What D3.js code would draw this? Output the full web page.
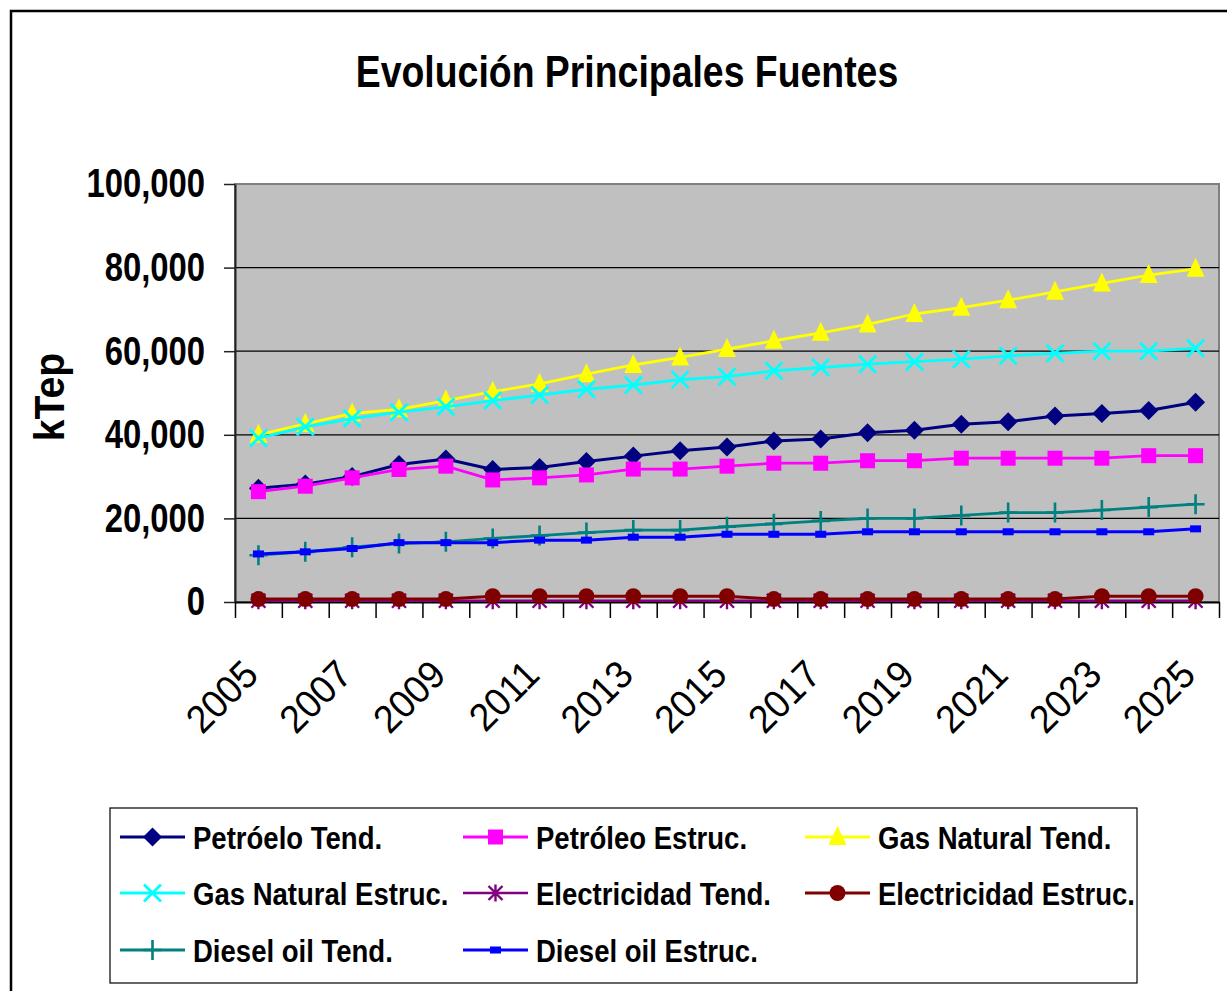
<!DOCTYPE html>
<html>
<head>
<meta charset="utf-8">
<script src="https://cdn.jsdelivr.net/npm/d3@7/dist/d3.min.js"></script>
<style>
  body { margin: 0; background: #fff; }
  text { font-family: "Liberation Sans", Arial, sans-serif; }
</style>
</head>
<body>
<svg id="chart" width="1227" height="991"></svg>
<script>
// ---- data (kTep) ----
const years = [2005, 2006, 2007, 2008, 2009, 2010, 2011, 2012, 2013, 2014, 2015,
               2016, 2017, 2018, 2019, 2020, 2021, 2022, 2023, 2024, 2025];
const labelYears = [2005, 2007, 2009, 2011, 2013, 2015, 2017, 2019, 2021, 2023, 2025];
const yTicks = [0, 20000, 40000, 60000, 80000, 100000];

const petroleoTend   = [27200, 28200, 30000, 32900, 34200, 31700, 32200, 33600, 34900, 36200, 37100,
                        38500, 39000, 40500, 41100, 42500, 43100, 44500, 45100, 45800, 47800];
const petroleoEstruc = [26400, 27700, 29700, 31700, 32500, 29200, 29700, 30400, 31800, 31800, 32500,
                        33200, 33200, 33800, 33800, 34400, 34400, 34400, 34400, 35000, 35000];
const gasTend        = [40000, 42600, 45100, 46100, 48200, 50300, 52200, 54500, 56700, 58500, 60500,
                        62500, 64400, 66400, 68900, 70400, 72200, 74200, 76200, 78200, 79700];
const gasEstruc      = [39200, 41900, 43900, 45400, 46700, 48200, 49500, 50900, 51900, 53200, 53900,
                        55300, 56100, 56900, 57500, 58100, 58900, 59500, 60000, 60000, 60700];
const elecTend       = [300, 300, 300, 300, 300, 300, 300, 300, 300, 300, 300,
                        300, 300, 300, 300, 300, 300, 300, 300, 300, 300];
const elecEstruc     = [700, 700, 700, 700, 700, 1400, 1400, 1400, 1400, 1400, 1400,
                        700, 700, 700, 700, 700, 700, 700, 1400, 1400, 1400];
const dieselTend     = [11200, 12000, 13100, 14000, 14400, 15200, 15900, 16600, 17200, 17200, 18000,
                        18700, 19400, 20000, 20000, 20700, 21400, 21400, 22000, 22700, 23400];
const dieselEstruc   = [11500, 12000, 12800, 14200, 14200, 14200, 14800, 14800, 15500, 15500, 16200,
                        16200, 16200, 16800, 16800, 16800, 16800, 16800, 16800, 16800, 17500];

const seriesNames  = ["Petróelo Tend.", "Petróleo Estruc.", "Gas Natural Tend.", "Gas Natural Estruc.",
                      "Electricidad Tend.", "Electricidad Estruc.", "Diesel oil Tend.", "Diesel oil Estruc."];
const seriesValues = [petroleoTend, petroleoEstruc, gasTend, gasEstruc, elecTend, elecEstruc, dieselTend, dieselEstruc];
const seriesColors = ["#000080", "#FF00FF", "#FFFF00", "#00FFFF", "#800080", "#800000", "#008080", "#0000FF"];
const seriesMarks  = ["diamond", "square", "triangle", "cross", "asterisk", "circle", "plus", "dash"];
const seriesWidths = [3, 2.8, 2.8, 2.8, 2.5, 3, 2.8, 3];

const series = seriesNames.map((name, i) => ({
  name, values: seriesValues[i], color: seriesColors[i], mark: seriesMarks[i], width: seriesWidths[i]
}));

// ---- layout ----
const svg = d3.select("#chart");
const plot = { left: 235, right: 1219, top: 184, bottom: 602 };

const x = d3.scaleBand().domain(years).range([plot.left, plot.right]).padding(0);
const xc = d => x(d) + x.bandwidth() / 2;
const y = d3.scaleLinear().domain([0, 100000]).range([plot.bottom, plot.top]);

// squeeze text horizontally to a narrow look
function condense(sel, f) {
  sel.each(function () {
    const L = this.getComputedTextLength();
    d3.select(this).attr("textLength", L * f).attr("lengthAdjust", "spacingAndGlyphs");
  });
}

// outer chart frame
svg.append("rect")
  .attr("x", 11).attr("y", 11).attr("width", 1250).attr("height", 1010)
  .attr("fill", "#fff").attr("stroke", "#000").attr("stroke-width", 2.5);

// title
svg.append("text")
  .attr("x", 627).attr("y", 87)
  .attr("text-anchor", "middle")
  .attr("font-size", 44).attr("font-weight", "bold")
  .text("Evolución Principales Fuentes")
  .call(condense, 0.85);

// plot background
svg.append("rect")
  .attr("x", plot.left).attr("y", plot.top)
  .attr("width", plot.right - plot.left).attr("height", plot.bottom - plot.top)
  .attr("fill", "#C0C0C0").attr("stroke", "#808080").attr("stroke-width", 2);

// horizontal gridlines
svg.append("g")
  .selectAll("line")
  .data(yTicks.filter(v => v > 0 && v < 100000))
  .join("line")
  .attr("x1", plot.left).attr("x2", plot.right)
  .attr("y1", d => y(d)).attr("y2", d => y(d))
  .attr("stroke", "#000").attr("stroke-width", 1.2);

// y axis
const yAxis = svg.append("g")
  .attr("transform", `translate(${plot.left},0)`)
  .call(d3.axisLeft(y).tickValues(yTicks).tickSize(11).tickSizeOuter(0).tickPadding(19)
        .tickFormat(d3.format(",")));
yAxis.select(".domain").attr("stroke", "#222").attr("stroke-width", 2);
yAxis.selectAll(".tick line").attr("stroke", "#222").attr("stroke-width", 1.5);
yAxis.selectAll("text")
  .attr("font-size", 40).attr("font-weight", "bold").attr("fill", "#000")
  .style("font-family", '"Liberation Sans", Arial, sans-serif')
  .call(condense, 0.82);

// y axis title
svg.append("text")
  .attr("transform", "translate(64,397) rotate(-90)")
  .attr("text-anchor", "middle")
  .attr("font-size", 42).attr("font-weight", "bold")
  .text("kTep")
  .call(condense, 0.93);

// x axis: line + boundary ticks
const xEdge = d3.scaleLinear().domain([0, years.length]).range([plot.left, plot.right]);
const xAxis = svg.append("g")
  .attr("transform", `translate(0,${plot.bottom})`)
  .call(d3.axisBottom(xEdge).tickValues(d3.range(years.length + 1)).tickSize(16).tickSizeOuter(0)
        .tickFormat(""));
xAxis.select(".domain").attr("stroke", "#000").attr("stroke-width", 2);
xAxis.selectAll(".tick line").attr("stroke", "#000").attr("stroke-width", 1.5);

// x labels (every other year, rotated)
svg.append("g")
  .selectAll("text")
  .data(labelYears)
  .join("text")
  .attr("transform", d => `translate(${xc(d) + 2},677) rotate(-45)`)
  .attr("text-anchor", "end")
  .attr("font-size", 39)
  .text(d => d)
  .call(condense, 0.95);

// ---- markers ----
function drawMark(g, type, color) {
  switch (type) {
    case "diamond":
      g.append("path").attr("d", "M0,-9.5L9.5,0L0,9.5L-9.5,0Z").attr("fill", color); break;
    case "square":
      g.append("rect").attr("x", -7.5).attr("y", -7.5).attr("width", 15).attr("height", 15).attr("fill", color); break;
    case "triangle":
      g.append("path").attr("d", "M0,-11L9,8L-9,8Z").attr("fill", color); break;
    case "cross":
      g.append("path").attr("d", "M-8.5,-8.5L8.5,8.5M-8.5,8.5L8.5,-8.5")
        .attr("stroke", color).attr("stroke-width", 2.8).attr("fill", "none"); break;
    case "asterisk":
      g.append("path").attr("d", "M-7,-7L7,7M-7,7L7,-7M0,-8.5L0,8.5")
        .attr("stroke", color).attr("stroke-width", 2.4).attr("fill", "none"); break;
    case "circle":
      g.append("circle").attr("r", 8).attr("fill", color); break;
    case "plus":
      g.append("path").attr("d", "M0,-10L0,10M-9,0L9,0")
        .attr("stroke", color).attr("stroke-width", 2.6).attr("fill", "none"); break;
    case "dash":
      g.append("rect").attr("x", -5.5).attr("y", -3.5).attr("width", 11).attr("height", 7).attr("fill", color); break;
  }
}

// ---- series ----
const line = d3.line().x((d, i) => xc(years[i])).y(d => y(d));
const seriesG = svg.append("g");
series.forEach(s => {
  const g = seriesG.append("g");
  g.append("path")
    .attr("d", line(s.values))
    .attr("fill", "none")
    .attr("stroke", s.color)
    .attr("stroke-width", s.width)
    .attr("stroke-linejoin", "round");
  s.values.forEach((v, i) => {
    const m = g.append("g").attr("transform", `translate(${xc(years[i])},${y(v)})`);
    drawMark(m, s.mark, s.color);
  });
});

// ---- legend ----
const legend = svg.append("g");
legend.append("rect")
  .attr("x", 110).attr("y", 808).attr("width", 1027).attr("height", 175)
  .attr("fill", "#fff").attr("stroke", "#000").attr("stroke-width", 1.2);

const colX = [120, 463, 805];
const rowY = [837, 893, 950];
series.forEach((s, i) => {
  const cx = colX[i % 3], cy = rowY[Math.floor(i / 3)];
  const g = legend.append("g");
  g.append("line")
    .attr("x1", cx).attr("x2", cx + 65).attr("y1", cy).attr("y2", cy)
    .attr("stroke", s.color).attr("stroke-width", s.width);
  drawMark(g.append("g").attr("transform", `translate(${cx + 32.5},${cy})`), s.mark, s.color);
  g.append("text")
    .attr("x", cx + 73).attr("y", cy + 12)
    .attr("font-size", 32).attr("font-weight", "bold")
    .text(s.name)
    .call(condense, 0.86);
});
</script>
</body>
</html>
